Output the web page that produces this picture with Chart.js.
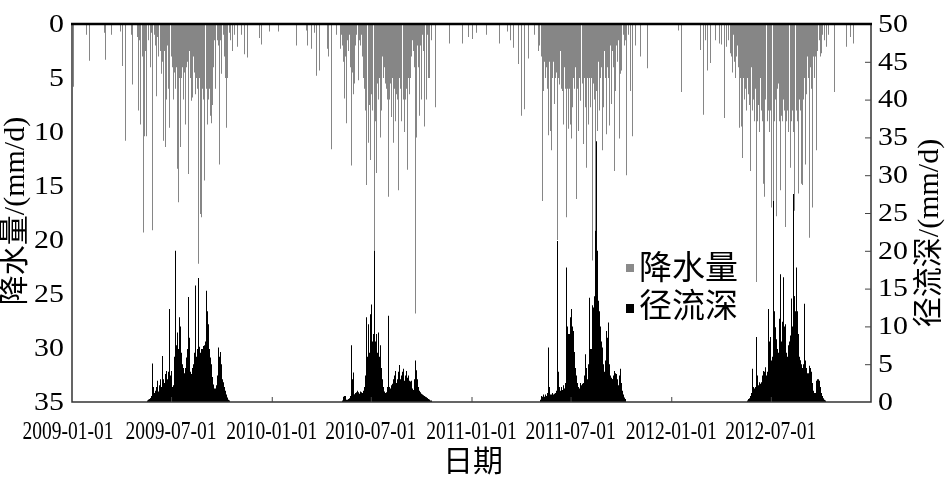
<!DOCTYPE html>
<html><head><meta charset="utf-8">
<script src="https://cdn.jsdelivr.net/npm/chart.js@4/dist/chart.umd.min.js"></script>
<style>html,body{margin:0;padding:0;background:#fff}#wrap{width:945px;height:479px;position:relative}</style>
</head><body><div id="wrap"><canvas id="c" width="945" height="479"></canvas></div>
<script>
// ---- axis ticks / labels ----
const xTickDays = [0, 181, 365, 546, 730, 911, 1095, 1277];
const xTickLabels = ['2009-01-01','2009-07-01','2010-01-01','2010-07-01','2011-01-01','2011-07-01','2012-01-01','2012-07-01'];
const rainTicks = [0, 5, 10, 15, 20, 25, 30, 35];
const runoffTicks = [0, 5, 10, 15, 20, 25, 30, 35, 40, 45, 50];
const seriesNames = ['降水量', '径流深'];
const yearStartDay = {2009: 0, 2010: 365, 2011: 730, 2012: 1095};

// ---- precipitation (mm/d); daily blocks start at day-of-year *Start, plus scattered [doy, mm] days ----
const rain2009Start = 118;
const rain2009 = [
 0,1.2,0,8.0,2.0,0,1.5,9.3,0.8,0,
 3.0,2.2,0,19.3,4.0,10.4,0,2.5,1.0,10.4,
 0,0,1.5,0,0,4.0,0,0.8,0,0,
 19.1,0,1.0,0,0,2.0,6.7,0,0,1.2,
 3.0,0,0,2.5,1.0,4.6,0,2.0,3.5,10.8,
 4.0,2.5,11.4,3.0,4.5,7.0,2.0,0,6.0,4.0,
 9.6,2.5,0,3.0,0,4.0,3.5,7.0,0,4.5,
 3.5,0,6.0,4.0,3.0,13.4,0,16.5,3.5,5.0,
 11.4,4.0,0,5.0,4.0,0,7.0,3.0,4.5,9.3,
 3.0,0,4.0,3.5,5.0,13.9,0,2.5,5.0,3.0,
 4.0,7.1,0,6.8,3.0,4.5,0,6.5,3.0,5.0,
 0,3.5,6.0,22.2,7.0,5.0,17.6,0,5.0,17.9,
 6.0,0,5.0,7.0,14.5,5.5,0,6.0,4.0,9.3,
 5.0,6.5,7.0,0,6.0,8.5,9.2,0,7.5,3.0,
 2.5,4.0,0,1.5,6.0,2.0,0,1.5,0,2.0,
 0,13.0,1.0,0,1.5,4.6,0,0,1.0,0,
 3.0,0,0,5.0,0,9.6,0,5.0,0,0,
 0.8,1.5,0,0,0,2.5,0,0,0,1.0
];
const rain2009Other = [[2,5.8],[27,1.0],[32,3.4],[60,0.8],[61,3.3],[72,1.0],[88,0.7],[93,3.9],[97,10.8],[108,1.0],[110,5.6],[302,2.1],[309,1.0],[316,2.8],[320,3.1],[342,1.3],[347,1.9],[360,0.7]];

const rain2010Start = 128;
const rain2010 = [
 1.0,0,2.0,3.5,1.5,6.9,3.0,2.0,9.2,4.0,
 0,1.5,0,2.5,1.0,4.0,3.0,2.0,13.1,4.5,
 2.0,6.5,1.5,0,5.5,2.0,0,1.0,0,0,
 5.2,0,1.5,0,2.0,0,1.0,3.0,2.0,4.0,
 5.0,0,6.0,8.0,5.0,7.0,14.9,0,5.0,11.0,
 7.5,6.0,0,12.6,6.5,5.0,7.0,8.0,0,21.0,
 7.5,9.0,0,6.0,13.8,5.5,0,7.0,5.0,0,
 10.5,5.0,3.5,8.0,0,3.0,5.0,0,4.0,5.5,
 3.0,0,6.0,5.0,7.0,16.0,6.0,0,7.0,5.5,
 8.6,4.0,0,5.0,11.0,4.5,6.0,0,9.0,4.0,
 6.5,0,7.0,15.4,6.0,5.0,0,6.0,4.5,6.5,
 9.0,0,7.0,4.0,6.0,10.0,0,7.0,4.5,6.0,
 13.5,5.0,0,6.5,3.0,5.0,2.0,0,3.0,1.5,
 0,2.5,1.0,4.0,26.8,3.0,5.0,10.5,2.0,0,
 4.0,1.5,8.5,0,2.0,0,7.0,0,1.0,0,
 2.5,9.5,4.5,0,0,7.0,0,1.0,5.0,0,
 0,5.0,0,0,1.5,0,0,0,0,0,
 0,7.7,0
];
const rain2010Other = [[12,0.7],[46,2.0],[63,0.6],[65,2.0],[73,2.3],[79,0.8],[82,4.8],[88,4.3],[101,2.3],[104,3.0],[110,11.6],[118,1.0],[125,2.3],[325,1.8],[348,1.8],[359,1.2]];

const rain2011Start = 125;
const rain2011 = [
 2.0,0,3.0,1.5,5.0,16.4,4.0,6.2,2.0,3.5,
 5.0,0,4.0,3.0,6.0,4.5,10.3,0,3.5,9.9,
 4.0,0,11.7,5.0,2.5,3.5,0,7.4,3.0,5.0,
 2.0,4.5,0,20.0,5.0,3.0,5.6,0,2.5,6.0,
 4.0,6.2,0,5.0,9.3,4.0,6.0,0,5.0,17.9,
 6.0,4.5,9.7,0,6.0,9.3,4.0,5.5,10.6,0,
 7.7,4.0,5.0,0,6.0,4.0,5.0,16.2,0,6.0,
 3.5,9.9,0,5.0,3.0,7.1,0,5.5,3.0,6.0,
 11.1,0,5.0,7.7,4.0,0,13.3,5.0,6.0,9.3,
 0,5.0,7.7,4.0,0,5.0,21.9,6.0,5.5,0,
 7.0,19.1,5.0,6.2,0,9.9,5.0,3.5,8.0,0,
 3.0,5.0,0,4.0,11.7,3.0,0,7.7,2.5,3.5,
 5.0,0,10.2,3.0,4.0,0,5.0,9.4,3.0,2.0,
 7.4,3.5,0,2.5,4.0,0,13.6,3.0,0,6.2,
 2.0,0,3.5,0,1.5,10.6,0,2.5,4.6,0,
 4.3,0,1.0,0,2.0,0,0,1.5,0,14.0,
 0,0,1.0,0,0,6.2,0,0,0,1.5,
 10.4,0,0,0,0,2.0
];
const rain2011Other = [[1,1.4],[9,0.8],[28,1.0],[51,1.8],[65,0.7],[71,1.5],[76,2.2],[86,3.7],[91,8.5],[97,7.9],[105,3.2],[116,1.0],[122,2.5],[308,3.0],[321,4.1]];

const rain2012Start = 110;
const rain2012 = [
 3.0,0,4.5,1.0,0,3.5,0,5.0,2.0,0,
 3.0,2.0,4.0,1.5,9.6,3.0,5.0,2.5,9.5,4.0,
 6.0,12.4,5.0,0,7.0,4.0,6.0,0,8.0,5.0,
 4.0,6.5,0,7.5,5.0,13.6,4.0,0,5.0,8.0,
 4.5,7.0,0,9.0,6.0,8.0,23.9,0,9.0,5.0,
 7.5,0,10.0,5.0,8.0,0,9.0,5.5,14.8,6.0,
 0,16.0,5.0,7.0,0,9.0,5.5,8.0,0,10.0,
 7.0,5.0,8.0,15.4,17.0,0,8.0,16.4,6.5,9.0,
 0,7.0,17.8,13.6,6.0,0,5.5,9.0,6.0,15.4,
 7.0,0,8.5,6.0,9.0,7.0,0,8.0,6.0,18.8,
 7.0,9.0,0,8.0,6.5,10.0,0,13.3,7.0,6.0,
 9.0,0,8.0,6.0,10.0,7.0,17.3,0,8.0,5.0,
 9.0,6.0,15.7,0,7.0,4.5,8.0,0,14.8,14.9,
 6.0,0,7.0,5.0,3.5,13.0,0,4.0,6.5,3.0,
 5.0,0,3.5,19.8,4.0,3.0,6.0,0,4.0,17.0,
 3.0,2.0,5.0,0,3.0,1.5,11.7,0,2.5,0,
 1.5,0,3.0,0,0,2.7,0,1.0,0,0,
 1.5,0,0,0,2.1,0,0,0,1.0,0,
 0,0,0,0,0,0,0,0,0,6.3
];
const rain2012Other = [[13,0.6],[18,6.3],[53,2.4],[59,8.4],[62,1.5],[66,4.3],[72,3.6],[80,1.5],[88,1.8],[92,1.9],[98,8.7],[101,2.1],[105,1.5],[108,2.7],[320,2.1],[327,1.2],[333,1.8]];

// ---- runoff depth (mm/d), daily blocks ----
const runoff2009Start = 138;
const runoff2009 = [
 0.2,0.3,0.3,0.4,0.4,0.5,0.5,0.6,0.8,1.0,
 5.1,2.0,0.9,1.2,1.4,1.5,1.3,2.0,2.8,1.6,
 1.4,1.8,2.2,3.0,1.8,1.5,2.0,2.4,6.1,3.0,
 2.2,2.5,3.7,2.8,3.2,4.1,3.0,2.6,3.0,4.0,
 12.3,5.0,3.5,4.1,2.5,2.0,1.6,1.8,2.2,3.0,
 6.0,20.0,10.3,7.5,8.0,9.2,7.0,6.0,7.5,11.2,
 10.0,7.0,6.5,5.9,5.0,4.5,4.0,3.8,3.5,3.5,
 4.5,5.0,5.9,7.0,8.0,13.9,8.5,6.0,4.0,3.0,
 3.2,3.7,4.0,4.5,5.0,5.5,6.5,15.4,8.0,6.0,
 5.5,5.0,7.0,16.4,9.0,7.3,5.9,6.5,6.8,7.0,
 7.0,6.6,7.4,7.1,6.8,7.5,8.0,9.0,14.7,12.0,
 10.0,10.3,9.0,7.0,6.5,5.9,5.0,4.0,3.3,2.8,
 2.3,2.0,1.8,1.6,1.5,1.8,2.2,2.5,3.5,5.0,
 7.2,6.0,5.0,5.5,6.6,5.0,3.7,3.0,2.6,2.2,
 2.0,1.7,1.5,1.2,1.0,0.8,0.6,0.4,0.3,0.2
];
const runoff2010Start = 130;
const runoff2010 = [
 0.2,0.5,0.7,0.8,0.8,0.6,0.3,0.2,0.2,0.3,
 0.3,0.4,0.5,0.6,0.8,1.2,7.5,3.0,2.0,3.9,
 1.5,1.0,1.0,1.2,1.3,1.2,1.5,1.4,1.3,1.2,
 1.1,1.0,1.2,1.4,1.3,1.2,1.0,1.2,1.5,1.8,
 2.0,2.5,3.5,5.0,11.2,6.0,5.0,10.3,6.5,5.5,
 11.6,7.0,6.5,12.9,8.0,7.0,9.0,20.0,12.0,8.0,
 7.0,6.0,9.0,6.5,5.5,9.2,6.0,5.0,7.5,5.0,
 4.5,4.0,3.0,2.5,2.0,1.6,1.4,1.2,1.2,1.3,
 1.2,1.5,2.0,11.4,3.0,2.0,1.5,1.8,2.0,2.2,
 2.0,2.4,2.8,3.0,3.5,3.0,4.1,3.5,2.5,2.8,
 3.0,3.5,4.0,4.9,3.8,3.0,2.8,3.2,3.5,4.0,
 4.4,3.5,2.8,2.5,3.0,3.5,4.1,3.5,3.2,3.5,
 3.0,2.8,2.5,2.6,2.7,2.8,2.2,1.8,1.5,1.6,
 2.0,3.0,5.5,4.8,4.2,4.0,3.0,2.5,2.0,1.8,
 1.5,1.3,1.2,1.1,1.0,1.0,0.9,0.9,0.8,0.8,
 0.8,0.7,0.6,0.6,0.5,0.5,0.4,0.4,0.3,0.3,
 0.2,0.2,0.1
];
const runoff2011Start = 126;
const runoff2011 = [
 0.3,0.6,0.8,0.5,0.7,1.0,0.8,0.6,0.7,0.9,
 1.0,0.8,1.0,1.2,2.0,7.2,2.0,1.2,1.0,0.9,
 0.8,1.0,1.2,1.0,0.9,1.0,1.1,1.2,1.0,1.2,
 1.5,2.5,21.3,4.0,2.0,1.5,1.3,1.5,2.0,1.8,
 1.5,1.6,2.0,2.2,1.8,2.0,2.5,4.0,17.8,10.0,
 8.0,9.0,8.0,9.0,11.2,9.0,10.0,12.3,10.0,8.0,
 9.4,7.0,6.0,6.6,4.5,3.5,3.0,2.5,2.2,2.0,
 1.8,1.6,1.8,2.0,2.5,2.2,2.0,2.4,2.5,2.3,
 2.8,3.5,4.0,6.3,4.5,3.5,3.0,3.0,5.0,13.8,
 9.0,7.0,6.5,6.0,7.0,12.8,9.0,12.5,10.0,14.0,
 22.7,18.0,15.0,34.5,20.0,15.0,13.4,12.0,11.0,10.0,
 9.0,8.0,7.5,7.2,6.0,5.0,4.5,4.0,4.5,5.5,
 7.0,9.4,8.0,8.5,10.5,6.0,5.0,4.0,3.5,3.2,
 3.0,3.0,3.0,3.2,3.5,3.8,4.1,3.8,3.5,3.7,
 3.0,2.5,2.2,2.0,2.5,3.5,4.4,3.0,2.5,2.0,
 1.5,1.0,0.8,0.6,0.5,0.4,0.2
];
const runoff2012Start = 140;
const runoff2012 = [
 0.2,0.3,0.4,0.5,0.7,0.8,1.0,1.2,2.0,4.4,
 2.0,1.5,1.6,1.8,2.0,3.0,8.6,3.5,2.2,2.0,
 2.2,2.5,2.6,2.4,2.5,2.6,3.0,3.5,4.1,3.5,
 3.5,4.0,4.6,4.0,3.5,3.0,4.0,6.0,12.3,8.0,
 7.0,8.6,6.0,5.5,5.0,6.0,9.8,26.6,12.0,9.0,
 9.9,7.5,7.0,8.3,7.0,6.0,6.5,8.0,11.0,16.9,
 10.0,8.0,7.0,8.0,10.6,16.5,12.0,10.0,10.3,8.0,
 6.5,5.5,5.0,6.0,7.0,7.5,8.0,8.8,7.0,6.5,
 13.7,9.0,10.0,13.8,27.5,14.0,14.0,12.0,17.6,17.8,
 12.0,10.8,9.0,7.5,6.0,5.5,5.5,5.5,5.0,4.5,
 4.0,4.2,5.0,13.0,7.0,5.5,5.0,4.5,4.0,3.8,
 3.5,3.8,4.2,4.8,4.5,4.2,4.0,3.0,2.5,2.0,
 1.5,1.2,1.0,1.0,1.2,2.0,2.8,3.0,2.9,3.0,
 2.8,2.4,2.0,1.5,1.2,1.0,0.8,0.6,0.5,0.4,
 0.3,0.2
];

// ---- build points from the arrays ----
function dailyPoints(year, start, vals) {
  return vals.map((v, i) => ({x: yearStartDay[year] + start + i, y: v})).filter(p => p.y > 0);
}
function scatteredPoints(year, pairs) {
  return pairs.map(([d, v]) => ({x: yearStartDay[year] + d, y: v}));
}
const rainPoints = [].concat(
  scatteredPoints(2009, rain2009Other), dailyPoints(2009, rain2009Start, rain2009),
  scatteredPoints(2010, rain2010Other), dailyPoints(2010, rain2010Start, rain2010),
  scatteredPoints(2011, rain2011Other), dailyPoints(2011, rain2011Start, rain2011),
  scatteredPoints(2012, rain2012Other), dailyPoints(2012, rain2012Start, rain2012)
).sort((a, b) => a.x - b.x);
const runoffPoints = [].concat(
  dailyPoints(2009, runoff2009Start, runoff2009),
  dailyPoints(2010, runoff2010Start, runoff2010),
  dailyPoints(2011, runoff2011Start, runoff2011),
  dailyPoints(2012, runoff2012Start, runoff2012)
);

const SERIF = '"Liberation Serif","Times New Roman",serif';
const MIXED = '"Liberation Serif","Noto Sans CJK SC",serif';
const RAIN_COLOR = '#868686';
const RUNOFF_COLOR = '#000000';

function drawScaled(ctx, text, x, y, sx, align) {
  ctx.save();
  ctx.translate(x, y);
  ctx.scale(sx, 1);
  ctx.textAlign = align;
  ctx.fillText(text, 0, 0);
  ctx.restore();
}

// snap each bar (positioned by the x scale) onto a crisp 1px pixel column
const snapPlugin = {
  id: 'snap',
  beforeDatasetsDraw(chart) {
    chart.data.datasets.forEach((ds, i) => {
      chart.getDatasetMeta(i).data.forEach(el => {
        el.x = Math.floor(el.x) + 0.5;
        el.width = 1;
      });
    });
  }
};

const decorPlugin = {
  id: 'decor',
  afterDraw(chart) {
    const ctx = chart.ctx, a = chart.chartArea, sx = chart.scales.x,
          yl = chart.scales.yRain, yr = chart.scales.yRunoff;
    ctx.save();
    // frame
    ctx.strokeStyle = '#333';
    ctx.lineWidth = 1.5;
    ctx.beginPath();
    ctx.moveTo(a.left, a.top); ctx.lineTo(a.left, a.bottom);
    ctx.lineTo(a.right, a.bottom); ctx.lineTo(a.right, a.top);
    ctx.stroke();
    ctx.strokeStyle = '#000';
    ctx.lineWidth = 2.5;
    ctx.beginPath(); ctx.moveTo(a.left - 1, a.top); ctx.lineTo(a.right + 1, a.top); ctx.stroke();

    // x ticks and labels
    ctx.strokeStyle = '#444'; ctx.lineWidth = 1;
    ctx.fillStyle = '#000';
    ctx.font = '26px ' + SERIF;
    ctx.textBaseline = 'middle';
    xTickDays.forEach((d, i) => {
      const px = sx.getPixelForValue(d);
      if (i > 0) { ctx.beginPath(); ctx.moveTo(px + 0.5, a.bottom); ctx.lineTo(px + 0.5, a.bottom - 5); ctx.stroke(); }
      drawScaled(ctx, xTickLabels[i], px - (i === 0 ? 4 : 0), a.bottom + 30, 0.75, 'center');
    });
    // left y labels
    rainTicks.forEach(v => {
      drawScaled(ctx, String(v), a.left - 8, yl.getPixelForValue(v) + 1, 1.15, 'right');
    });
    // right y ticks and labels
    runoffTicks.forEach(v => {
      const py = yr.getPixelForValue(v);
      if (v > 0 && v < 50) { ctx.beginPath(); ctx.moveTo(a.right, py + 0.5); ctx.lineTo(a.right - 6, py + 0.5); ctx.stroke(); }
      drawScaled(ctx, String(v), a.right + 7, py + 1, 1.15, 'left');
    });

    // axis titles
    ctx.font = '30px ' + MIXED;
    ctx.textAlign = 'center';
    ctx.save(); ctx.translate(16, 211); ctx.rotate(-Math.PI / 2);
    ctx.fillText(seriesNames[0] + '/(mm/d)', 0, 0); ctx.restore();
    ctx.save(); ctx.translate(930, 233); ctx.rotate(-Math.PI / 2);
    ctx.fillText(seriesNames[1] + '/(mm/d)', 0, 0); ctx.restore();
    ctx.fillText('日期', 473, 463);

    // legend
    ctx.fillStyle = '#8a8a8a'; ctx.fillRect(626, 264, 8, 8);
    ctx.fillStyle = '#000'; ctx.fillRect(626, 304, 8, 9);
    ctx.font = '33px ' + MIXED;
    ctx.textAlign = 'left';
    ctx.fillText(seriesNames[0], 639, 270);
    ctx.fillText(seriesNames[1], 639, 308);
    ctx.restore();
  }
};

new Chart(document.getElementById('c'), {
  type: 'bar',
  data: {
    datasets: [
      {label: seriesNames[1], data: runoffPoints, yAxisID: 'yRunoff', backgroundColor: RUNOFF_COLOR,
       barThickness: 1, grouped: false, borderWidth: 0, inflateAmount: 0, order: 0},
      {label: seriesNames[0], data: rainPoints, yAxisID: 'yRain', backgroundColor: RAIN_COLOR,
       barThickness: 1, grouped: false, borderWidth: 0, inflateAmount: 0, order: 1}
    ]
  },
  options: {
    responsive: false,
    animation: false,
    devicePixelRatio: 1,
    layout: {padding: {left: 72, right: 74, top: 24, bottom: 77}},
    plugins: {legend: {display: false}, tooltip: {enabled: false}},
    scales: {
      x: {type: 'linear', min: 0, max: 1460, display: false, offset: false},
      yRain: {type: 'linear', position: 'left', min: 0, max: 35, reverse: true, display: false},
      yRunoff: {type: 'linear', position: 'right', min: 0, max: 50, display: false}
    }
  },
  plugins: [snapPlugin, decorPlugin]
});
</script>
</body></html>
